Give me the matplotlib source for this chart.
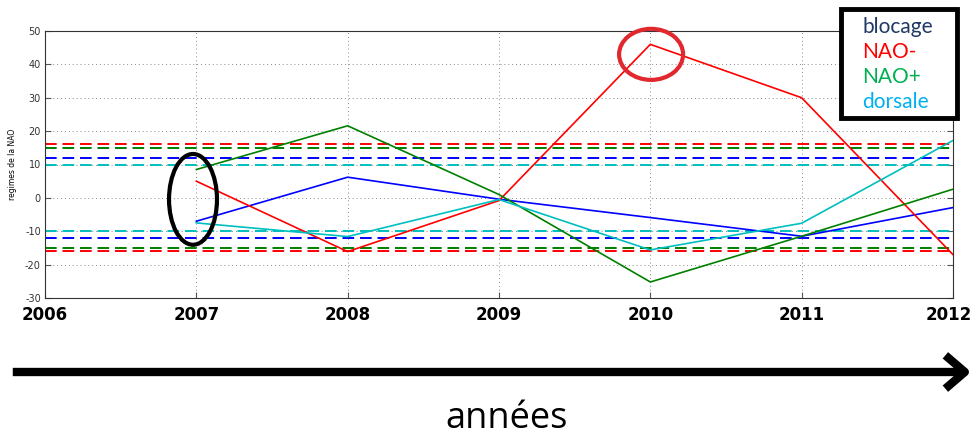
import matplotlib
matplotlib.use("Agg")
import matplotlib.pyplot as plt
from matplotlib.patches import Ellipse, Rectangle, FancyArrowPatch
from matplotlib import font_manager
import matplotlib.transforms as mtrans

# ---- data ----
years = [2007, 2008, 2009, 2010, 2011, 2012]
blocage = [-7.0, 6.2, -0.4, -5.9, -11.5, -2.9]
nao_minus = [5.0, -16.1, -0.8, 46.0, 30.0, -17.0]
nao_plus = [8.5, 21.6, 1.0, -25.2, -11.5, 2.6]
dorsale = [-7.5, -11.6, -0.5, -15.6, -7.6, 17.2]
thresh_nao_minus = 16
thresh_nao_plus = 15
thresh_blocage = 12
thresh_dorsale = 10
xticks = [2006, 2007, 2008, 2009, 2010, 2011, 2012]
yticks = [-30, -20, -10, 0, 10, 20, 30, 40, 50]
legend_labels = ["blocage", "NAO-", "NAO+", "dorsale"]
legend_colors = ["#1F3864", "#FF0000", "#00B050", "#00B0F0"]

c_blue, c_red, c_green, c_cyan = "#0000FF", "#FF0000", "#008000", "#00BFBF"

# condensed bold font for year labels, if available
year_family = ["DejaVu Sans"]
year_stretch = "normal"
for cand in ["Liberation Sans Narrow", "DejaVu Sans Condensed"]:
    try:
        font_manager.findfont(font_manager.FontProperties(family=cand, weight="bold"),
                              fallback_to_default=False)
        year_family = [cand, "DejaVu Sans"]
        break
    except Exception:
        pass
year_size = 13 if year_family[0] != "DejaVu Sans" else 12

W, H = 976, 438
fig = plt.figure(figsize=(W / 100, H / 100), dpi=100)
ax = fig.add_axes([45 / W, 1 - 298 / H, (953 - 45) / W, (298 - 31) / H])

# dashed thresholds
for t, c in [(thresh_nao_minus, c_red), (thresh_nao_plus, c_green),
             (thresh_blocage, c_blue), (thresh_dorsale, c_cyan)]:
    for s in (1, -1):
        ax.axhline(s * t, color=c, lw=1.4, ls=(0, (6, 3)), zorder=2)

ax.plot(years, blocage, color=c_blue, lw=1.2, zorder=3)
ax.plot(years, nao_minus, color=c_red, lw=1.2, zorder=3)
ax.plot(years, nao_plus, color=c_green, lw=1.2, zorder=3)
ax.plot(years, dorsale, color=c_cyan, lw=1.2, zorder=3)

ax.set_xlim(2006, 2012)
ax.set_ylim(-30, 50)
ax.set_xticks(xticks)
ax.set_xticklabels([str(y) for y in xticks], fontweight="bold", fontsize=year_size,
                   family=year_family)
ax.set_yticks(yticks)
ax.set_yticklabels([str(y) for y in yticks], fontsize=7, color="#333333")
ax.tick_params(axis="x", direction="in", length=4, pad=6, color="#555555")
ax.tick_params(axis="y", direction="in", length=4, pad=3, right=True, color="#555555")
ax.grid(True, ls=(0, (1, 3)), color="#8a8a8a", lw=0.7)
for sp in ax.spines.values():
    sp.set_color("#333333")
    sp.set_linewidth(0.8)
ax.set_ylabel("regimes de la NAO", fontsize=5.5, labelpad=6)

# keep the last year label inside the figure
last = ax.get_xticklabels()[-1]
last.set_transform(last.get_transform() + mtrans.ScaledTranslation(-4 / 100, 0, fig.dpi_scale_trans))

# annotation ellipses
ax.add_patch(Ellipse((2006.978, -0.45), 0.317, 27.2, fill=False, ec="black",
                     lw=3, zorder=5))
ax.add_patch(Ellipse((2010.005, 43.0), 0.423, 15.3, fill=False, ec="#E0282E",
                     lw=3, zorder=5, clip_on=False))

# legend box
rect = Rectangle((841 / W, 1 - 118 / H), (957 - 841) / W, (118 - 9) / H,
                 transform=fig.transFigure, facecolor="white", edgecolor="black",
                 lw=3.5, zorder=10)
fig.patches.append(rect)
for i, (lab, col) in enumerate(zip(legend_labels, legend_colors)):
    fig.text(862 / W, 1 - (27 + 25 * i) / H, lab, color=col, fontsize=15,
             family=["Lato", "DejaVu Sans"], va="center", ha="left", zorder=11)

# arrow and axis caption
arr = FancyArrowPatch((10 / W, 1 - 372 / H), (974 / W, 1 - 372 / H),
                      transform=fig.transFigure, arrowstyle="->,head_length=14,head_width=12",
                      mutation_scale=1, lw=6, color="black", capstyle="butt")
fig.patches.append(arr)
fig.text(507 / W, 1 - 419 / H, "années", fontsize=26, ha="center", va="center",
         family=["Open Sans", "DejaVu Sans"])

fig.savefig("out.png", dpi=100)
